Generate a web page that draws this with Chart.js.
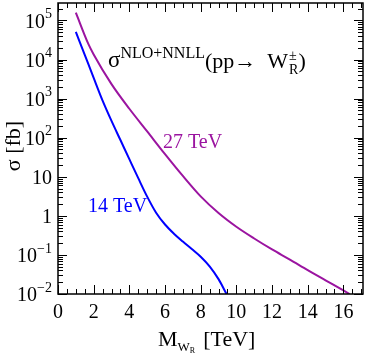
<!DOCTYPE html>
<html>
<head>
<meta charset="utf-8">
<script src="https://cdn.jsdelivr.net/npm/chart.js@4/dist/chart.umd.min.js"></script>
<style>
  html, body { margin: 0; padding: 0; background: #fff; }
  #wrap { width: 365px; height: 354px; }
</style>
</head>
<body>
<div id="wrap"><canvas id="chart"></canvas></div>
<script>
// 14 TeV curve: W_R mass [TeV] vs cross section [fb]
const mass14 = [1, 1.5, 2, 2.5, 3, 3.5, 4, 4.5, 5, 5.5, 6, 6.5, 7, 7.5, 8, 8.5, 9, 9.45];
const sigma14 = [5.1e4, 1.32e4, 3.39e3, 891, 269, 87.1, 28.2, 9.2, 3.1, 1.2, 0.6, 0.35, 0.22, 0.142, 0.09, 0.051, 0.024, 0.01];

// 27 TeV curve
const mass27 = [1, 1.7, 2, 3, 4, 5, 6, 7, 8, 9, 10, 11, 12, 13, 14, 15, 16, 16.35];
const sigma27 = [1.58e5, 2.51e4, 1.35e4, 2344, 550, 145, 38.0, 10.5, 3.15, 1.18, 0.525, 0.263, 0.138, 0.0759, 0.0407, 0.0224, 0.0123, 0.01];

// y tick labels (10^exp)
const yTickValues = [1e-2, 1e-1, 1, 10, 1e2, 1e3, 1e4, 1e5];
const yTickBase = ['10', '10', '1', '10', '10', '10', '10', '10'];
const yTickExp = ['\u22122', '\u22121', '', '', '2', '3', '4', '5'];

const FONT = '"Liberation Serif", "Times New Roman", serif';
const BLUE = '#0000ff';
const PURPLE = 'rgb(155,20,160)';

function toPoints(xs, ys) {
    return xs.map((x, i) => ({ x: x, y: ys[i] }));
}

// draws a run of text pieces left to right, each with its own size and baseline
function drawRun(ctx, x, parts, color) {
    ctx.fillStyle = color;
    ctx.textAlign = 'left';
    ctx.textBaseline = 'alphabetic';
    for (const p of parts) {
        ctx.font = p.size + 'px ' + FONT;
        ctx.fillText(p.t, x, p.y);
        x += ctx.measureText(p.t).width;
    }
    return x;
}

const framePlugin = {
    id: 'frame',
    afterDraw(chart) {
        const { ctx, chartArea: a, scales: { x, y } } = chart;
        ctx.save();

        // tick marks pointing inwards on all four sides
        ctx.strokeStyle = '#000';
        ctx.lineWidth = 1;
        ctx.beginPath();
        for (let v = 0; v <= x.max; v += 0.5) {
            const px = Math.round(x.getPixelForValue(v)) + 0.5;
            const len = v % 2 === 0 ? 9 : 5;
            ctx.moveTo(px, a.bottom); ctx.lineTo(px, a.bottom - len);
            ctx.moveTo(px, a.top); ctx.lineTo(px, a.top + len);
        }
        for (let k = -2; k <= 5; k++) {
            for (let m = 1; m <= 9; m++) {
                const v = m * Math.pow(10, k);
                if (v < y.min || v > y.max) continue;
                const py = Math.round(y.getPixelForValue(v)) + 0.5;
                const len = m === 1 ? 9 : 5;
                ctx.moveTo(a.left, py); ctx.lineTo(a.left + len, py);
                ctx.moveTo(a.right, py); ctx.lineTo(a.right - len, py);
            }
        }
        ctx.stroke();

        // frame
        ctx.lineWidth = 1.5;
        ctx.strokeRect(a.left, a.top, a.right - a.left, a.bottom - a.top);

        // y tick labels with superscripts
        ctx.fillStyle = '#000';
        ctx.textBaseline = 'middle';
        yTickValues.forEach((v, i) => {
            const py = y.getPixelForValue(v) + 2;
            const right = a.left - 6;
            ctx.textAlign = 'right';
            let expW = 0;
            if (yTickExp[i]) {
                ctx.font = '14px ' + FONT;
                expW = ctx.measureText(yTickExp[i]).width;
                ctx.fillText(yTickExp[i], right, py - 8);
            }
            ctx.font = '20px ' + FONT;
            ctx.fillText(yTickBase[i], right - expW, py);
        });

        // y axis title
        ctx.save();
        ctx.translate(20, 146);
        ctx.rotate(-Math.PI / 2);
        ctx.textAlign = 'center';
        ctx.textBaseline = 'alphabetic';
        ctx.font = '22px ' + FONT;
        ctx.fillText('\u03c3 [fb]', 0, 0);
        ctx.restore();

        // x axis title: M_{W_R} [TeV]
        let tx = drawRun(ctx, 158, [
            { t: 'M', size: 22, y: 346 },
            { t: 'W', size: 13, y: 351 }
        ], '#000');
        tx = drawRun(ctx, tx, [{ t: 'R', size: 8, y: 353 }], '#000');
        drawRun(ctx, tx + 8, [{ t: '[TeV]', size: 22, y: 346 }], '#000');

        // process title
        const hx = drawRun(ctx, 108, [
            { t: '\u03c3', size: 23, y: 67 },
            { t: 'NLO+NNLL', size: 16, y: 58 },
            { t: '(pp\u2192  W', size: 22, y: 68 }
        ], '#000');
        const r1 = drawRun(ctx, hx + 1, [{ t: '\u00b1', size: 14, y: 60 }], '#000');
        const r2 = drawRun(ctx, hx + 1, [{ t: 'R', size: 14, y: 74 }], '#000');
        drawRun(ctx, Math.max(r1, r2), [{ t: ')', size: 22, y: 68 }], '#000');

        // curve labels
        drawRun(ctx, 163, [{ t: '27 TeV', size: 20, y: 148 }], PURPLE);
        drawRun(ctx, 88, [{ t: '14 TeV', size: 20, y: 212 }], BLUE);

        ctx.restore();
    }
};

new Chart(document.getElementById('chart'), {
    type: 'line',
    data: {
        datasets: [
            {
                label: '14 TeV',
                data: toPoints(mass14, sigma14),
                borderColor: BLUE,
                borderWidth: 2,
                pointRadius: 0,
                cubicInterpolationMode: 'monotone',
                fill: false
            },
            {
                label: '27 TeV',
                data: toPoints(mass27, sigma27),
                borderColor: PURPLE,
                borderWidth: 2,
                pointRadius: 0,
                cubicInterpolationMode: 'monotone',
                fill: false
            }
        ]
    },
    options: {
        responsive: true,
        maintainAspectRatio: false,
        animation: false,
        layout: { padding: { left: 58, right: 2, top: 3, bottom: 22 } },
        scales: {
            x: {
                type: 'linear',
                min: 0,
                max: 17.1,
                grid: { display: false, drawTicks: false },
                border: { display: false },
                ticks: {
                    stepSize: 2,
                    includeBounds: false,
                    maxRotation: 0,
                    autoSkip: false,
                    padding: 7,
                    color: '#000',
                    font: { family: FONT, size: 20 }
                }
            },
            y: {
                type: 'logarithmic',
                min: 0.01,
                max: 2.8e5,
                grid: { display: false, drawTicks: false },
                border: { display: false },
                ticks: { display: false },
                afterFit(scale) { scale.width = 0; }
            }
        },
        plugins: {
            legend: { display: false },
            tooltip: { enabled: false }
        }
    },
    plugins: [framePlugin]
});
</script>
</body>
</html>
